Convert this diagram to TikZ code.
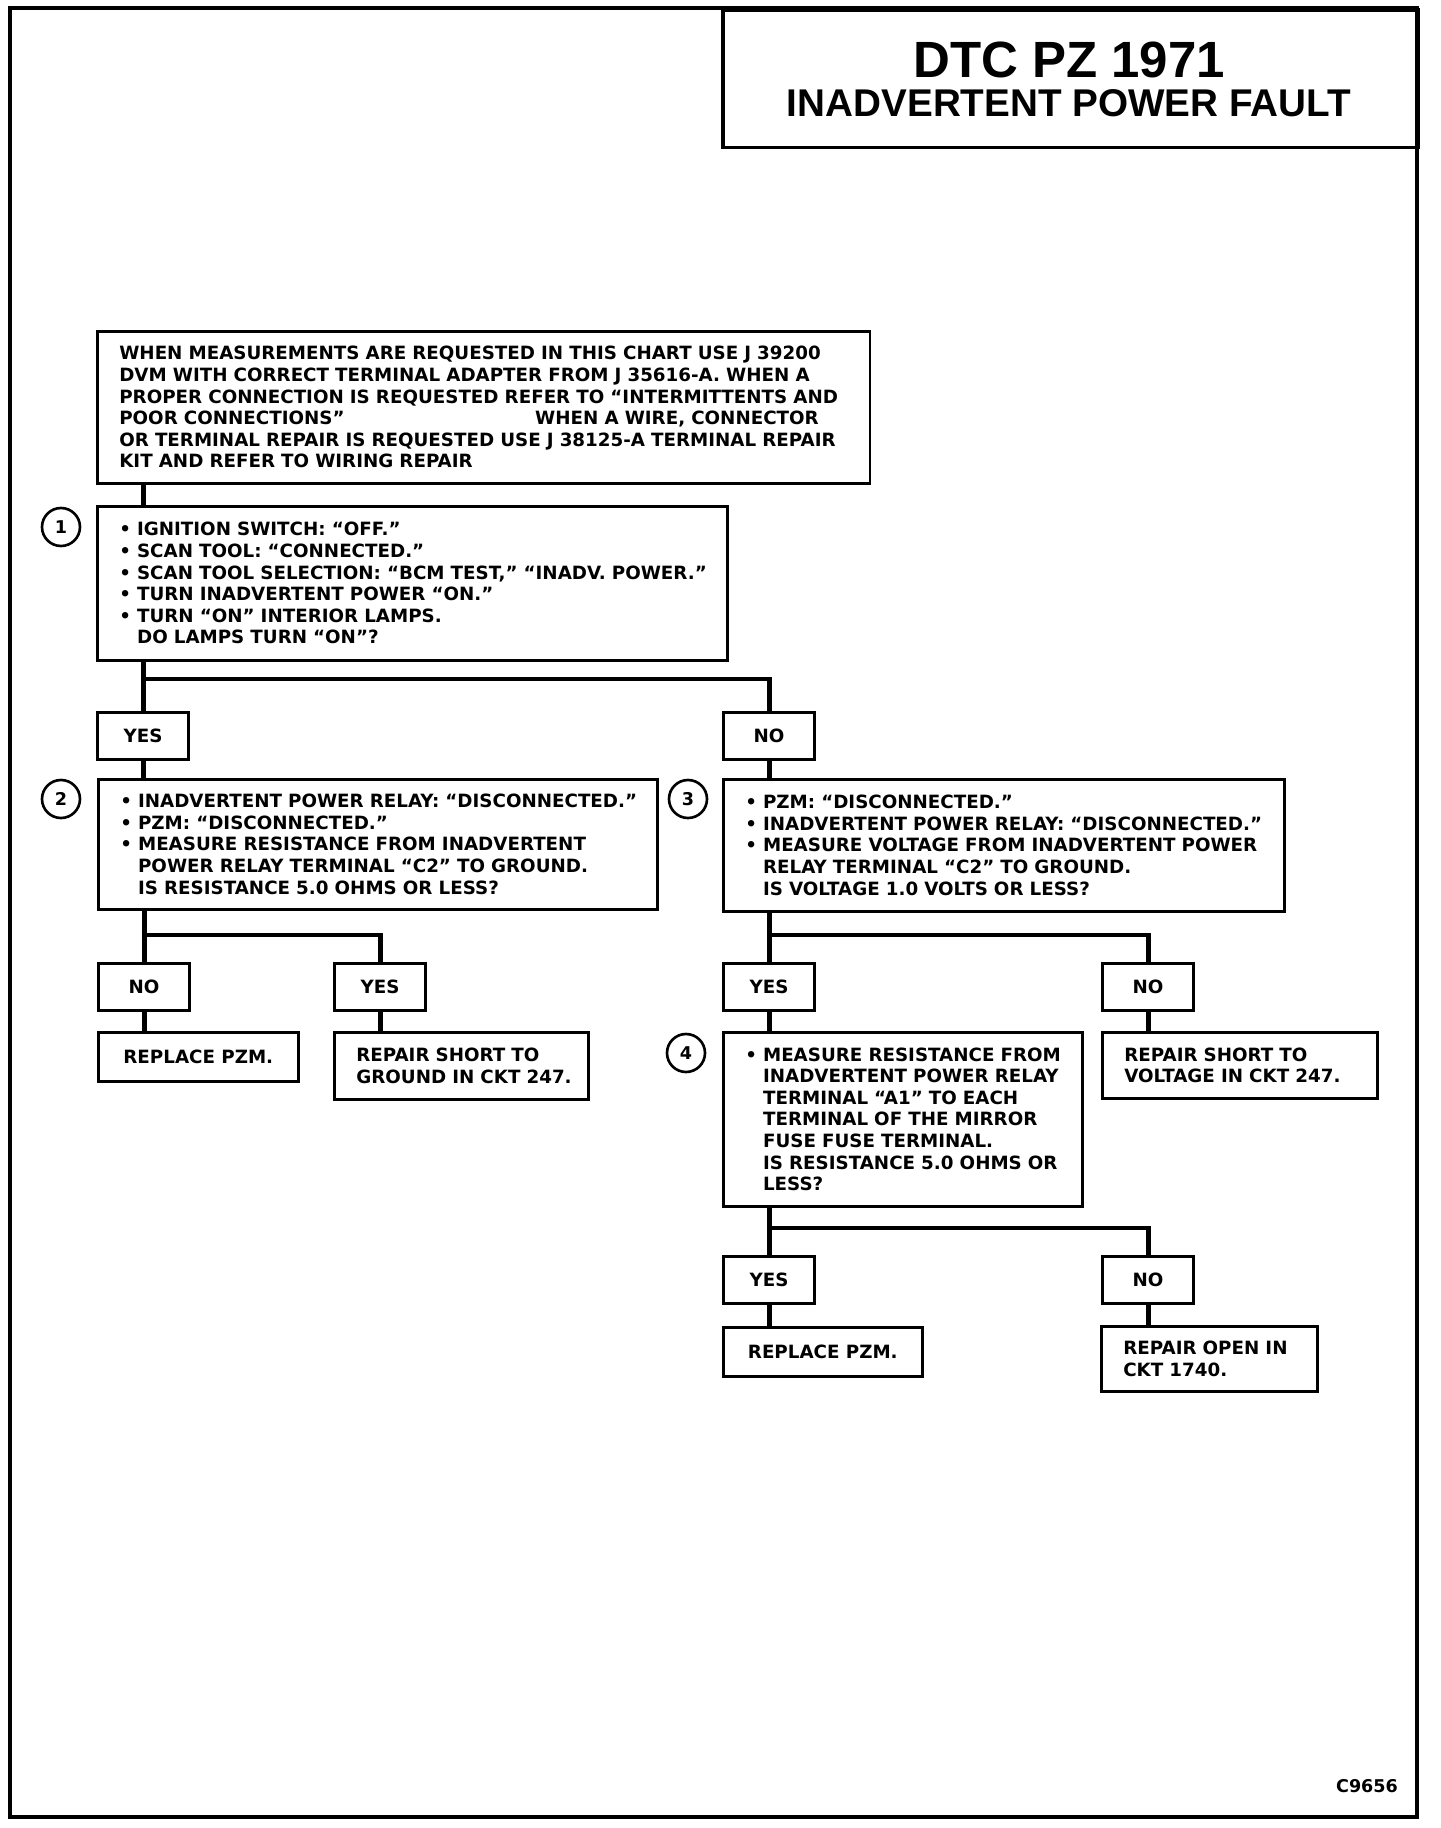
\documentclass[tikz,border=0pt]{standalone}
\usepackage{fontspec}
\setmainfont{DejaVu Sans}
\newfontfamily\titlefont{Liberation Sans}
\usepackage{tikz}
\usetikzlibrary{positioning}
\newcommand{\itemdot}{•\ }
\newcommand{\itemgap}{\phantom{•\ }}

\begin{document}
\begin{tikzpicture}[x=0.02cm, y=-0.02cm,
  chkbox/.style={draw, line width=1.5pt, anchor=north west, align=left,
    inner xsep=0.44cm, inner ysep=0pt,
    font=\bfseries\fontsize{10.4}{12.3}\selectfont},
  ansbox/.style={draw, line width=1.5pt, anchor=north west, align=center,
    minimum width=1.83cm, minimum height=0.94cm, inner sep=0pt,
    font=\bfseries\fontsize{10.4}{12.3}\selectfont},
  stepnum/.style={circle, draw, line width=1.5pt, minimum size=0.76cm,
    inner sep=0pt, font=\bfseries\fontsize{10}{12}\selectfont},
  conn/.style={line width=2.8pt}]

\useasboundingbox (0,0) rectangle (1440,1828);
\draw[line width=2.2pt] (10,8) rectangle (1417,1817);

% Title
\node[draw, line width=2pt, anchor=north west, minimum width=13.92cm,
  minimum height=2.76cm] (title) at (721,8) {};
\node[font=\titlefont\bfseries\fontsize{29}{34}\selectfont] (tline1) at (1069,60) {DTC PZ 1971};
\node[font=\titlefont\bfseries\fontsize{22}{26}\selectfont] (tline2) at (1069,103) {INADVERTENT POWER FAULT};

% Intro note
\node[chkbox, text width=14.58cm, minimum height=3.04cm] (intro) at (96,330) {%
  \mbox{WHEN MEASUREMENTS ARE REQUESTED IN THIS CHART USE J 39200}\\
  \mbox{DVM WITH CORRECT TERMINAL ADAPTER FROM J 35616-A. WHEN A}\\
  \mbox{PROPER CONNECTION IS REQUESTED REFER TO “INTERMITTENTS AND}\\
  \mbox{\makebox[8.32cm][l]{POOR CONNECTIONS”}WHEN A WIRE, CONNECTOR}\\
  \mbox{OR TERMINAL REPAIR IS REQUESTED USE J 38125-A TERMINAL REPAIR}\\
  \mbox{KIT AND REFER TO WIRING REPAIR}};

% Step 1
\node[stepnum] (num1) at (61,527) {1};
\node[chkbox, text width=11.72cm, minimum height=3.08cm] (chk1) at (96,505) {%
  \mbox{\itemdot IGNITION SWITCH: “OFF.”}\\
  \mbox{\itemdot SCAN TOOL: “CONNECTED.”}\\
  \mbox{\itemdot SCAN TOOL SELECTION: “BCM TEST,” “INADV. POWER.”}\\
  \mbox{\itemdot TURN INADVERTENT POWER “ON.”}\\
  \mbox{\itemdot TURN “ON” INTERIOR LAMPS.}\\
  \mbox{\itemgap DO LAMPS TURN “ON”?}};
\node[ansbox] (yes1) at (96,711) {YES};
\node[ansbox] (no1) at (722,711) {NO};
\coordinate (br1) at (0,679);

% Step 2
\node[stepnum] (num2) at (61,799) {2};
\node[chkbox, text width=10.30cm, minimum height=2.6cm] (chk2) at (97,778) {%
  \mbox{\itemdot INADVERTENT POWER RELAY: “DISCONNECTED.”}\\
  \mbox{\itemdot PZM: “DISCONNECTED.”}\\
  \mbox{\itemdot MEASURE RESISTANCE FROM INADVERTENT}\\
  \mbox{\itemgap POWER RELAY TERMINAL “C2” TO GROUND.}\\
  \mbox{\itemgap IS RESISTANCE 5.0 OHMS OR LESS?}};
\node[ansbox] (no2) at (97,962) {NO};
\node[ansbox] (yes2) at (333,962) {YES};
\node[ansbox, minimum width=4.0cm, minimum height=0.98cm] (fix2a) at (97,1031) {REPLACE PZM.};
\node[chkbox, text width=4.20cm, minimum height=1.34cm] (fix2b) at (333,1031) {%
  \mbox{REPAIR SHORT TO}\\\mbox{GROUND IN CKT 247.}};
\coordinate (br2) at (0,935);

% Step 3
\node[stepnum] (num3) at (688,799) {3};
\node[chkbox, text width=10.34cm, minimum height=2.64cm] (chk3) at (722,778) {%
  \mbox{\itemdot PZM: “DISCONNECTED.”}\\
  \mbox{\itemdot INADVERTENT POWER RELAY: “DISCONNECTED.”}\\
  \mbox{\itemdot MEASURE VOLTAGE FROM INADVERTENT POWER}\\
  \mbox{\itemgap RELAY TERMINAL “C2” TO GROUND.}\\
  \mbox{\itemgap IS VOLTAGE 1.0 VOLTS OR LESS?}};
\node[ansbox] (yes3) at (722,962) {YES};
\node[ansbox] (no3) at (1101,962) {NO};
\node[chkbox, text width=4.62cm, minimum height=1.32cm] (fix3) at (1101,1031) {%
  \mbox{REPAIR SHORT TO}\\\mbox{VOLTAGE IN CKT 247.}};

% Step 4
\node[stepnum] (num4) at (686,1053) {4};
\node[chkbox, text width=6.30cm, minimum height=3.48cm] (chk4) at (722,1031) {%
  \mbox{\itemdot MEASURE RESISTANCE FROM}\\
  \mbox{\itemgap INADVERTENT POWER RELAY}\\
  \mbox{\itemgap TERMINAL “A1” TO EACH}\\
  \mbox{\itemgap TERMINAL OF THE MIRROR}\\
  \mbox{\itemgap FUSE FUSE TERMINAL.}\\
  \mbox{\itemgap IS RESISTANCE 5.0 OHMS OR}\\
  \mbox{\itemgap LESS?}};
\node[ansbox] (yes4) at (722,1255) {YES};
\node[ansbox] (no4) at (1101,1255) {NO};
\node[ansbox, minimum width=3.98cm, minimum height=0.98cm] (fix4a) at (722,1326) {REPLACE PZM.};
\node[chkbox, text width=3.44cm, minimum height=1.3cm] (fix4b) at (1100,1325) {%
  \mbox{REPAIR OPEN IN}\\\mbox{CKT 1740.}};
\coordinate (br4) at (0,1228);

% Connectors
\draw[conn] (intro.south -| yes1) -- (chk1.north -| yes1);
\draw[conn] (chk1.south -| yes1) -- (yes1.north);
\draw[conn] (br1 -| yes1) -- (br1 -| no1) -- (no1.north);
\draw[conn] (yes1.south) -- (chk2.north -| yes1);
\draw[conn] (no1.south) -- (chk3.north -| no1);

\draw[conn] (chk2.south -| no2) -- (no2.north);
\draw[conn] (br2 -| no2) -- (br2 -| yes2) -- (yes2.north);
\draw[conn] (no2.south) -- (fix2a.north -| no2);
\draw[conn] (yes2.south) -- (fix2b.north -| yes2);

\draw[conn] (chk3.south -| yes3) -- (yes3.north);
\draw[conn] (br2 -| yes3) -- (br2 -| no3) -- (no3.north);
\draw[conn] (yes3.south) -- (chk4.north -| yes3);
\draw[conn] (no3.south) -- (fix3.north -| no3);

\draw[conn] (chk4.south -| yes4) -- (yes4.north);
\draw[conn] (br4 -| yes4) -- (br4 -| no4) -- (no4.north);
\draw[conn] (yes4.south) -- (fix4a.north -| yes4);
\draw[conn] (no4.south) -- (fix4b.north -| no4);

\node[font=\bfseries\fontsize{10}{12}\selectfont] (figid) at (1367,1786) {C9656};

\end{tikzpicture}
\end{document}
